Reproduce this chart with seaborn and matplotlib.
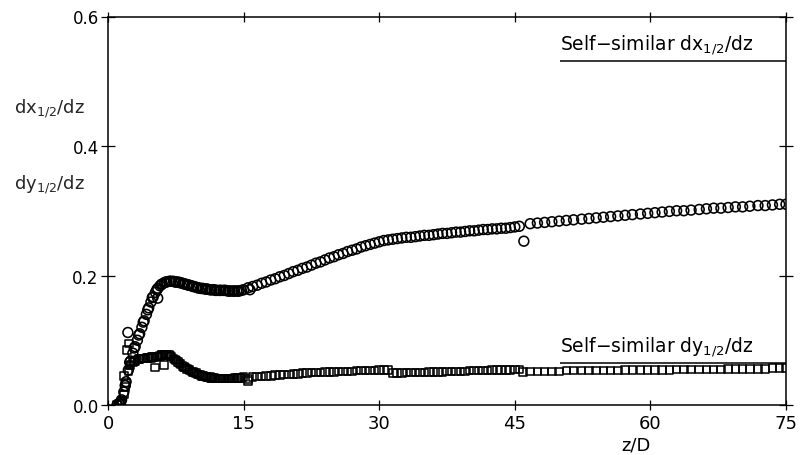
import numpy as np
import pandas as pd
import matplotlib
matplotlib.use("Agg")
import matplotlib.pyplot as plt
import seaborn as sns

# ---------------- data ----------------
z_seg1 = [1.00, 1.25, 1.50, 1.75, 2.00, 2.25, 2.50, 2.75, 3.00, 3.25, 3.50, 3.75,
          4.00, 4.25, 4.50, 4.75, 5.00, 5.25, 5.50, 5.75, 6.00, 6.25, 6.50, 6.75,
          7.00, 7.25, 7.50, 7.75, 8.00, 8.25, 8.50, 8.75, 9.00, 9.25, 9.50, 9.75,
          10.00, 10.25, 10.50, 10.75, 11.00, 11.25, 11.50, 11.75, 12.00, 12.25,
          12.50, 12.75, 13.00, 13.25, 13.50, 13.75, 14.00, 14.25, 14.50, 14.75, 15.00]
dx_seg1 = [0.000, 0.002, 0.008, 0.020, 0.036, 0.054, 0.068, 0.080, 0.090, 0.100, 0.110, 0.120,
           0.130, 0.140, 0.150, 0.159, 0.167, 0.174, 0.180, 0.184, 0.187, 0.189, 0.190, 0.191,
           0.191, 0.191, 0.190, 0.190, 0.189, 0.188, 0.187, 0.186, 0.185, 0.184, 0.183, 0.182,
           0.181, 0.180, 0.180, 0.179, 0.179, 0.178, 0.178, 0.178, 0.177, 0.177,
           0.177, 0.177, 0.177, 0.176, 0.176, 0.176, 0.176, 0.176, 0.176, 0.177, 0.178]
dy_seg1 = [0.000, 0.002, 0.006, 0.016, 0.034, 0.052, 0.062, 0.066, 0.068, 0.070, 0.071, 0.072,
           0.072, 0.073, 0.073, 0.073, 0.074, 0.074, 0.075, 0.076, 0.077, 0.078, 0.078, 0.077,
           0.075, 0.072, 0.069, 0.066, 0.063, 0.060, 0.058, 0.056, 0.054, 0.052, 0.050, 0.049,
           0.047, 0.046, 0.045, 0.044, 0.043, 0.043, 0.042, 0.042, 0.041, 0.041,
           0.041, 0.041, 0.041, 0.041, 0.041, 0.041, 0.042, 0.042, 0.042, 0.042, 0.043]

# second (interleaved) set of near-field stations
z_seg1b = [1.40, 1.90, 2.40, 2.90, 3.40, 3.90, 4.40, 4.90, 5.40, 5.90, 6.40, 6.90,
           7.40, 7.90, 8.40, 8.90, 9.40, 9.90, 10.40, 10.90, 11.40, 11.90, 12.40,
           12.90, 13.40, 13.90, 14.40]
dx_seg1b = [0.005, 0.030, 0.066, 0.088, 0.108, 0.128, 0.147, 0.166, 0.178, 0.186, 0.190, 0.191,
            0.190, 0.189, 0.187, 0.185, 0.183, 0.181, 0.180, 0.179, 0.178, 0.177, 0.177,
            0.177, 0.176, 0.176, 0.176]
dy_seg1b = [0.004, 0.028, 0.061, 0.067, 0.071, 0.072, 0.073, 0.074, 0.075, 0.077, 0.078, 0.076,
            0.070, 0.064, 0.059, 0.055, 0.051, 0.047, 0.045, 0.043, 0.042, 0.041, 0.041,
            0.041, 0.041, 0.041, 0.042]

z_seg2 = [15.5, 16.0, 16.5, 17.0, 17.5, 18.0, 18.5, 19.0, 19.5, 20.0, 20.5, 21.0,
          21.5, 22.0, 22.5, 23.0, 23.5, 24.0, 24.5, 25.0, 25.5, 26.0, 26.5, 27.0,
          27.5, 28.0, 28.5, 29.0, 29.5, 30.0, 30.5, 31.0]
dx_seg2 = [0.181, 0.183, 0.185, 0.188, 0.190, 0.193, 0.195, 0.198, 0.200, 0.203, 0.206, 0.208,
           0.211, 0.213, 0.216, 0.219, 0.221, 0.224, 0.227, 0.229, 0.232, 0.234, 0.237, 0.239,
           0.241, 0.244, 0.246, 0.248, 0.250, 0.252, 0.254, 0.255]
dy_seg2 = [0.040, 0.043, 0.044, 0.044, 0.045, 0.045, 0.046, 0.046, 0.047, 0.047, 0.048, 0.048,
           0.049, 0.049, 0.050, 0.050, 0.050, 0.051, 0.051, 0.051, 0.052, 0.052, 0.052, 0.052,
           0.053, 0.053, 0.053, 0.053, 0.053, 0.054, 0.054, 0.054]

z_seg3 = [31.5, 32.0, 32.5, 33.0, 33.5, 34.0, 34.5, 35.0, 35.5, 36.0, 36.5, 37.0,
          37.5, 38.0, 38.5, 39.0, 39.5, 40.0, 40.5, 41.0, 41.5, 42.0, 42.5, 43.0,
          43.5, 44.0, 44.5, 45.0, 45.5]
dx_seg3 = [0.256, 0.257, 0.258, 0.259, 0.259, 0.260, 0.261, 0.262, 0.262, 0.263, 0.264, 0.265,
           0.265, 0.266, 0.267, 0.267, 0.268, 0.269, 0.269, 0.270, 0.271, 0.271, 0.272, 0.272,
           0.273, 0.273, 0.274, 0.275, 0.276]
dy_seg3 = [0.049, 0.049, 0.049, 0.050, 0.050, 0.050, 0.050, 0.050, 0.051, 0.051, 0.051, 0.051,
           0.052, 0.052, 0.052, 0.052, 0.052, 0.053, 0.053, 0.053, 0.053, 0.053, 0.054, 0.054,
           0.054, 0.054, 0.054, 0.055, 0.055]

z_seg4 = [46.7, 47.5, 48.3, 49.1, 49.9, 50.7, 51.5, 52.4, 53.2, 54.0, 54.8, 55.6,
          56.4, 57.2, 58.0, 58.9, 59.7, 60.5, 61.3, 62.1, 62.9, 63.7, 64.5, 65.4,
          66.2, 67.0, 67.8, 68.6, 69.4, 70.2, 71.0, 71.9, 72.7, 73.5, 74.3, 75.0]
dx_seg4 = [0.280, 0.281, 0.282, 0.283, 0.284, 0.285, 0.286, 0.287, 0.288, 0.289, 0.290, 0.291,
           0.292, 0.293, 0.294, 0.295, 0.296, 0.297, 0.298, 0.299, 0.300, 0.300, 0.301, 0.302,
           0.303, 0.304, 0.304, 0.305, 0.306, 0.306, 0.307, 0.308, 0.308, 0.309, 0.310, 0.310]
dy_seg4 = [0.052, 0.052, 0.052, 0.052, 0.052, 0.053, 0.053, 0.053, 0.053, 0.053, 0.053, 0.053,
           0.053, 0.054, 0.054, 0.054, 0.054, 0.054, 0.054, 0.054, 0.055, 0.055, 0.055, 0.055,
           0.055, 0.055, 0.055, 0.056, 0.056, 0.056, 0.056, 0.056, 0.056, 0.057, 0.057, 0.057]

# isolated points
z_dx_extra = [2.2, 5.5, 15.7, 46.0]
dx_extra = [0.112, 0.165, 0.178, 0.253]
z_dy_extra = [1.8, 2.1, 2.3, 5.2, 6.2, 15.5, 45.9]
dy_extra = [0.045, 0.085, 0.095, 0.058, 0.062, 0.037, 0.051]

# self-similar reference levels
selfsim_z = [50.0, 75.0]
selfsim_dx = 0.531
selfsim_dy = 0.065

x_ticks = [0, 15, 30, 45, 60, 75]
y_ticks = [0.0, 0.2, 0.4, 0.6]

# ---------------- figure ----------------
sns.set_theme(style="white")
plt.rcParams["font.family"] = ["DejaVu Sans"]
plt.rcParams["mathtext.fontset"] = "dejavusans"

W, H = 801, 456
fig = plt.figure(figsize=(W / 100, H / 100), dpi=100)
ax = fig.add_axes([108 / W, 1 - 406 / H, 678 / W, (406 - 17.5) / H])

dx_df = pd.DataFrame({
    "z": z_seg1 + z_seg1b + z_seg2 + z_seg3 + z_seg4 + z_dx_extra,
    "v": dx_seg1 + dx_seg1b + dx_seg2 + dx_seg3 + dx_seg4 + dx_extra,
})
dy_df = pd.DataFrame({
    "z": z_seg1 + z_seg1b + z_seg2 + z_seg3 + z_seg4 + z_dy_extra,
    "v": dy_seg1 + dy_seg1b + dy_seg2 + dy_seg3 + dy_seg4 + dy_extra,
})

sns.scatterplot(data=dx_df, x="z", y="v", marker="o", s=50, facecolors="none",
                edgecolor="black", linewidth=1.15, ax=ax, legend=False)
sns.scatterplot(data=dy_df, x="z", y="v", marker="s", s=30, facecolors="none",
                edgecolor="black", linewidth=1.1, ax=ax, legend=False)

ax.hlines([selfsim_dx, selfsim_dy], selfsim_z[0], selfsim_z[1], colors="black",
          linewidth=1.1, clip_on=False)

ax.text(50.0, 0.550, "Self\u2212similar dx$_{1/2}$/dz", fontsize=13.5,
        ha="left", va="baseline", color="black")
ax.text(50.0, 0.0834, "Self\u2212similar dy$_{1/2}$/dz", fontsize=13.5,
        ha="left", va="baseline", color="black")

ax.set_xlim(0, 75)
ax.set_ylim(0, 0.6)
ax.set_xticks(x_ticks)
ax.set_yticks(y_ticks)
ax.set_xticklabels([str(t) for t in x_ticks], fontsize=13)
ax.set_yticklabels([f"{t:.1f}" for t in y_ticks], fontsize=12)

for side in ["left", "right", "top", "bottom"]:
    ax.spines[side].set_visible(True)
    ax.spines[side].set_color("black")
    ax.spines[side].set_linewidth(1.1)

ax.tick_params(axis="x", which="major", direction="inout", length=7.5, width=0.9,
               top=True, bottom=True, labeltop=False, pad=3, colors="black")
ax.tick_params(axis="y", which="major", direction="inout", length=10.5, width=0.9,
               left=True, right=True, labelright=False, pad=1.5, colors="black")

ax.set_xlabel("z/D", fontsize=13, color="black")
ax.xaxis.set_label_coords((636 - 108) / 678, -0.078)
ax.set_ylabel("")

fig.text(14 / W, 1 - 114 / H, "dx$_{1/2}$/dz", fontsize=13, ha="left", va="baseline")
fig.text(14 / W, 1 - 190 / H, "dy$_{1/2}$/dz", fontsize=13, ha="left", va="baseline")

fig.savefig("out.png", dpi=100)
